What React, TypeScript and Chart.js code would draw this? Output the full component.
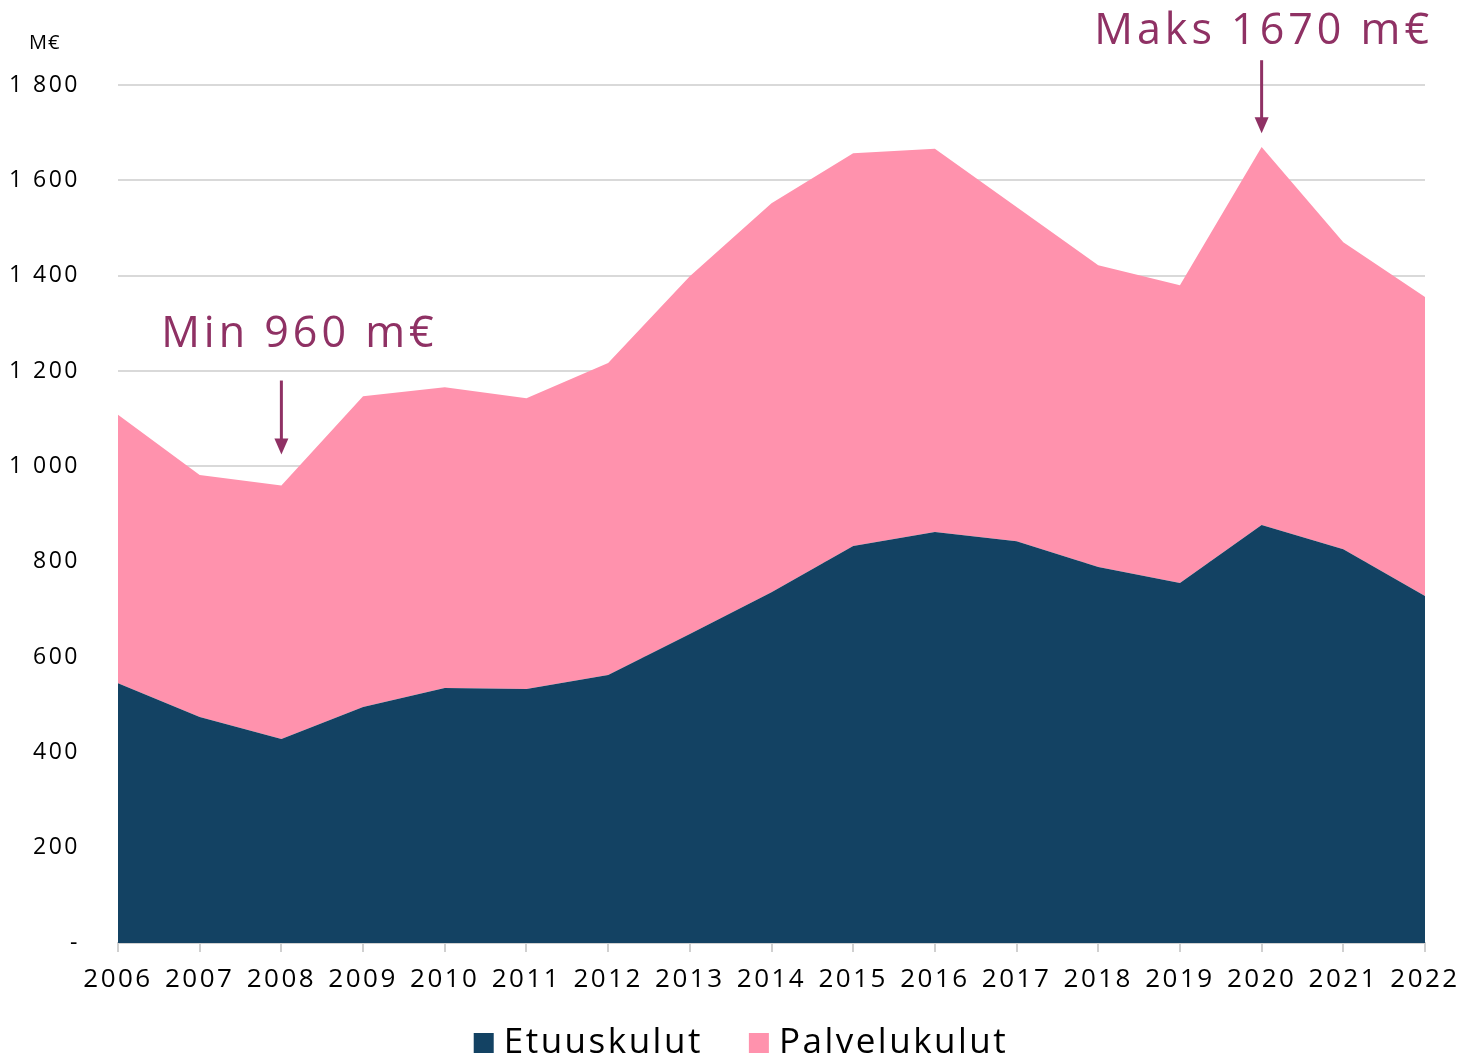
import React, { useEffect, useRef } from "react";
import { Chart, registerables } from "chart.js";

Chart.register(...registerables);

const years = ["2006","2007","2008","2009","2010","2011","2012","2013","2014","2015","2016","2017","2018","2019","2020","2021","2022"];
const etuuskulut = [545, 474, 428, 495, 535, 533, 562, 648, 736, 833, 862, 843, 789, 755, 877, 826, 728];
const palvelukulut = [563, 508, 532, 652, 631, 610, 655, 751, 816, 824, 804, 701, 633, 625, 793, 644, 627];
const seriesNames = ["Etuuskulut", "Palvelukulut"];
const annotations = [
  { index: 2, text: "Min 960 m€", from: 1180, to: 1025, textAt: 1250, dx: 18 },
  { index: 14, text: "Maks 1670 m€", from: 1852, to: 1699, textAt: 1886, dx: 2 },
];
const unitLabel = "M€";

const NAVY = "#134263";
const PINK = "#FF92AD";
const ANNO = "#8F3164";
const FONT = "'Open Sans', 'Noto Sans', sans-serif";

const spacingPlugin = {
  id: "spacing",
  beforeLayout(chart: any) { chart.ctx.letterSpacing = "2.5px"; },
  beforeDraw(chart: any) { chart.ctx.letterSpacing = "2.5px"; },
};

const annoPlugin = {
  id: "anno",
  afterDraw(chart: any) {
    const ctx = chart.ctx;
    const x = chart.scales.x;
    const y = chart.scales.y;
    ctx.save();
    ctx.letterSpacing = "4px";
    ctx.fillStyle = ANNO;
    ctx.strokeStyle = ANNO;
    ctx.font = `43px ${FONT}`;
    ctx.textAlign = "center";
    ctx.textBaseline = "alphabetic";
    for (const a of annotations) {
      const px = x.getPixelForValue(a.index);
      const y0 = y.getPixelForValue(a.from);
      const y1 = y.getPixelForValue(a.to);
      ctx.lineWidth = 3;
      ctx.beginPath();
      ctx.moveTo(px, y0);
      ctx.lineTo(px, y1 - 14);
      ctx.stroke();
      ctx.beginPath();
      ctx.moveTo(px - 7, y1 - 16);
      ctx.lineTo(px + 7, y1 - 16);
      ctx.lineTo(px, y1);
      ctx.closePath();
      ctx.fill();
      ctx.fillText(a.text, px + a.dx, y.getPixelForValue(a.textAt));
    }
    // unit label
    ctx.letterSpacing = "1px";
    ctx.fillStyle = "#000";
    ctx.font = `20px ${FONT}`;
    ctx.textAlign = "left";
    ctx.textBaseline = "middle";
    ctx.fillText(unitLabel, 29, 43);

    // legend
    const colors = chart.data.datasets.map((d: any) => d.backgroundColor);
    ctx.font = `35px ${FONT}`;
    ctx.letterSpacing = "2.5px";
    ctx.textBaseline = "alphabetic";
    const box = 20, gapText = 10, gapItem = 46;
    const widths = seriesNames.map((n) => ctx.measureText(n).width);
    const total = widths.reduce((s, w) => s + box + gapText + w, 0) + gapItem * (seriesNames.length - 1);
    let cx = chart.width / 2 + 11 - total / 2;
    const baseline = 1053;
    seriesNames.forEach((n, i) => {
      ctx.fillStyle = colors[i];
      ctx.fillRect(cx, baseline - 20, box, box);
      ctx.fillStyle = "#000";
      ctx.fillText(n, cx + box + gapText, baseline);
      cx += box + gapText + widths[i] + gapItem;
    });
    ctx.restore();
  },
};

export default function App() {
  const ref = useRef<HTMLCanvasElement | null>(null);
  useEffect(() => {
    document.body.style.margin = "0";
    if (!ref.current) return;
    const chart = new Chart(ref.current, {
      type: "line",
      data: {
        labels: years,
        datasets: [
          {
            label: seriesNames[0],
            data: etuuskulut,
            backgroundColor: NAVY,
            borderColor: NAVY,
            borderWidth: 0,
            pointRadius: 0,
            fill: "origin",
            tension: 0,
          },
          {
            label: seriesNames[1],
            data: palvelukulut,
            backgroundColor: PINK,
            borderColor: PINK,
            borderWidth: 0,
            pointRadius: 0,
            fill: "-1",
            tension: 0,
          },
        ],
      },
      options: {
        animation: false,
        responsive: true,
        maintainAspectRatio: false,
        layout: { padding: { top: 85, right: 35, left: 0, bottom: 65 } },
        plugins: {
          tooltip: { enabled: false },
          legend: { display: false },
        },
        scales: {
          x: {
            offset: false,
            afterFit(scale: any) {
              scale.height = 50;
              scale.paddingRight = 0;
              scale.paddingLeft = 0;
            },
            grid: { display: true, drawOnChartArea: false, drawTicks: true, tickLength: 9, color: "#d0d0d0", lineWidth: 2 },
            border: { display: true, color: "#d0d0d0", width: 2 },
            ticks: { color: "#000", font: { family: FONT, size: 26 }, padding: 12, maxRotation: 0, autoSkip: false },
          },
          y: {
            stacked: true,
            min: 0,
            max: 1800,
            afterFit(scale: any) { scale.width = 118; },
            grid: { color: "#d9d9d9", lineWidth: 2, drawTicks: false },
            border: { display: false },
            ticks: {
              stepSize: 200,
              padding: 38,
              color: "#000",
              font: { family: FONT, size: 23 },
              callback: (v: any) => {
                const n = Number(v);
                if (n === 0) return "-";
                if (n >= 1000) return `${Math.floor(n / 1000)} ${String(n % 1000).padStart(3, "0")}`;
                return String(n);
              },
            },
          },
        },
      },
      plugins: [spacingPlugin, annoPlugin],
    });
    return () => chart.destroy();
  }, []);
  return (
    <div style={{ position: "relative", width: 1460, height: 1058 }}>
      <canvas ref={ref} />
    </div>
  );
}
